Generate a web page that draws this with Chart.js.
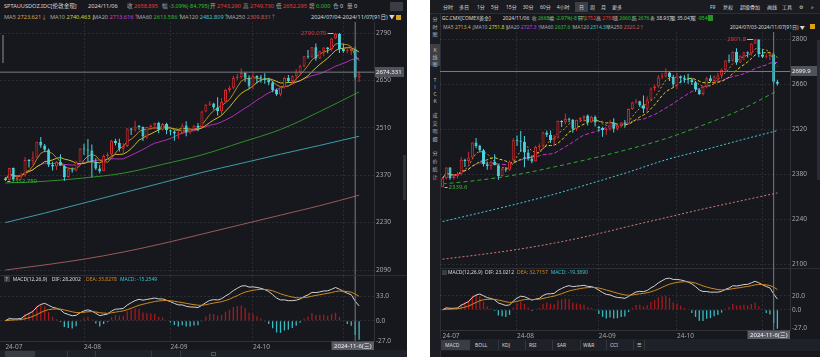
<!DOCTYPE html>
<html><head><meta charset="utf-8">
<script src="https://cdn.jsdelivr.net/npm/chart.js@4.4.1/dist/chart.umd.min.js"></script>
<style>
html,body{margin:0;padding:0;background:#fff;width:824px;height:357px;overflow:hidden}
.p{position:absolute;overflow:hidden;background:#17181d}
.s{position:absolute;white-space:nowrap;font-family:"Noto Sans","Noto Sans CJK SC",sans-serif;color:#a9a9a9;line-height:1}
.f1{font-size:5.6px}.f2{font-size:5px}
.r{color:#e8393c}.g{color:#2cc12c}.w{color:#d8d8d8}.o{color:#d38a1f}.c{color:#38c3cc}
canvas{position:absolute}
.bx{position:absolute}
.vt{position:absolute;width:10px;text-align:center;font-family:"Noto Sans CJK SC",sans-serif;font-size:5px;color:#b8b8b8}
</style></head>
<body>
<!-- LEFT PANEL -->
<div class="p" id="L" style="left:0;top:0;width:407px;height:357px">
  <div class="s f1 w" style="left:4px;top:4px">SPTAUUSDOZ.IDC[伦敦金现]</div>
  <div class="s f1 w" style="left:88px;top:4px">2024/11/06</div>
  <div class="s f1" style="left:127px;top:4px">收 <span class="r">2658.895</span></div>
  <div class="s f1" style="left:162px;top:4px">幅 <span class="g">-3.09%(-84.795)</span></div>
  <div class="s f1" style="left:210px;top:4px">开 <span class="r">2743.290</span></div>
  <div class="s f1" style="left:243px;top:4px">高 <span class="r">2749.730</span></div>
  <div class="s f1" style="left:276px;top:4px">低 <span class="r">2652.295</span></div>
  <div class="s f1" style="left:309px;top:4px">增 <span class="g">0.000</span></div>
  <div class="s f1" style="left:333px;top:4px">仓 <span class="w">0</span></div>
  <div class="s f1" style="left:347px;top:4px">量 <span class="w">0</span></div>
  <div class="bx" style="left:390px;top:2px;width:13px;height:9px;background:#3b3d44"></div>
  <div class="s f1" style="left:4px;top:15px">MA5 <span style="color:#dba440">2723.621↓</span></div>
  <div class="s f1" style="left:50px;top:15px">MA10 <span style="color:#d8d22a">2740.463↓</span></div>
  <div class="s f1" style="left:93px;top:15px">MA20 <span style="color:#cf3fd6">2713.616↑</span></div>
  <div class="s f1" style="left:137px;top:15px">MA60 <span style="color:#33b533">2613.586↑</span></div>
  <div class="s f1" style="left:180px;top:15px">MA120 <span style="color:#3ec0cc">2482.809↑</span></div>
  <div class="s f1" style="left:227px;top:15px">MA250 <span style="color:#c85a5a">2309.831↑</span></div>
  <div class="s f1 w" style="left:311px;top:15px">2024/07/04-2024/11/07(91日) ▼</div>
  <div class="bx" style="left:396px;top:15px;width:5px;height:5px;background:#d9a21b"></div>
  <canvas id="lm" width="406" height="254" style="left:0;top:22px"></canvas>
  <div class="bx" style="left:0;top:275px;width:407px;height:1px;background:#2c2e35"></div>
  <canvas id="lq" width="406" height="74" style="left:0;top:276px"></canvas>
  <div class="bx" style="left:4px;top:276px;width:6px;height:6px;background:#3a3c44"></div>
  <div class="s f2 w" style="left:5.5px;top:276.5px">?</div>
  <div class="s f2 w" style="left:12.7px;top:276.8px">MACD(12,26,9)</div>
  <div class="s f2 w" style="left:51.7px;top:276.8px">DIF: 28.2002</div>
  <div class="s f2 o" style="left:86px;top:276.8px">DEA: 35.8278</div>
  <div class="s f2 c" style="left:120px;top:276.8px">MACD: -15.2549</div>
  <div class="bx" style="left:0;top:350px;width:407px;height:7px;background:#1f2128"></div>
  <div class="bx" style="left:5px;top:351px;width:30px;height:6px;background:#3a3c44"></div>
  <div class="bx" style="left:67px;top:351px;width:1px;height:6px;background:#3a3c44"></div>
  <div class="bx" style="left:95px;top:351px;width:1px;height:6px;background:#3a3c44"></div>
  <div class="bx" style="left:151px;top:351px;width:1px;height:6px;background:#3a3c44"></div>
  <div class="bx" style="left:180px;top:351px;width:1px;height:6px;background:#3a3c44"></div>
  <div class="bx" style="left:211px;top:352px;width:5px;height:4px;border:1px solid #555;box-sizing:border-box"></div>
  <div class="bx" style="left:2px;top:35px;width:2px;height:28px;background:#50535a"></div>
  <div class="bx" style="left:403px;top:155px;width:3px;height:45px;background:#2e3037"></div>
</div>

<!-- RIGHT PANEL -->
<div class="p" id="R" style="left:430px;top:0;width:390px;height:357px">
  <div class="bx" style="left:0;top:0;width:390px;height:13px;background:#1b1c22;border-bottom:1px solid #2c2e35"></div>
  <div class="bx" style="left:145px;top:2px;width:13px;height:10px;background:#3d4048"></div>
  <div class="s f2 w" style="left:13px;top:5px">分时</div>
  <div class="s f2 w" style="left:29px;top:5px">多日</div>
  <div class="s f2 w" style="left:47px;top:5px">1分</div>
  <div class="s f2 w" style="left:61px;top:5px">5分</div>
  <div class="s f2 w" style="left:76px;top:5px">15分</div>
  <div class="s f2 w" style="left:92.7px;top:5px">30分</div>
  <div class="s f2 w" style="left:110px;top:5px">60分</div>
  <div class="s f2 w" style="left:126.7px;top:5px">4小时</div>
  <div class="s f2 w" style="left:149px;top:5px">日</div>
  <div class="s f2 w" style="left:160px;top:5px">周</div>
  <div class="s f2 w" style="left:171px;top:5px">月</div>
  <div class="s f2 w" style="left:182px;top:5px">更多</div>
  <div class="s f2 w" style="left:280px;top:5px">F9</div>
  <div class="s f2 w" style="left:293px;top:5px">复权</div>
  <div class="s f2 w" style="left:310px;top:5px">超级叠加</div>
  <div class="s f2 w" style="left:337px;top:5px">画线</div>
  <div class="s f2 w" style="left:352px;top:5px">工具</div>
  <div class="s f2 w" style="left:369px;top:5px">⚙</div>
  <div class="s f2 w" style="left:381px;top:5px">»</div>

  <div class="bx" style="left:0;top:14px;width:10px;height:343px;background:#1c1d23;border-right:1px solid #2c2e35"></div>
  <div class="vt" style="left:0;top:15px;line-height:7.5px">分<br>时<br>图</div>
  <div class="bx" style="left:0;top:44px;width:10px;height:22px;background:#3d4048"></div>
  <div class="vt" style="left:0;top:46px;line-height:7px">K<br>线<br>图</div>
  <div class="vt" style="left:0;top:76px;line-height:7px">T<br>I<br>C<br>K</div>
  <div class="vt" style="left:0;top:111px;line-height:8px">成<br>交<br>明<br>细</div>
  <div class="vt" style="left:0;top:149px;line-height:8px">分<br>价<br>统<br>计</div>

  <div class="s f2 w" style="left:11.7px;top:15.5px">GC.CMX[COMEX黄金]</div>
  <div class="s f2 w" style="left:72.7px;top:15.5px">2024/11/06</div>
  <div class="s f2" style="left:101.7px;top:15.5px">收 <span class="g">2668.0</span></div>
  <div class="s f2" style="left:119px;top:15.5px">幅 <span class="g">-2.97%(-81.7)</span></div>
  <div class="s f2" style="left:148px;top:15.5px">开 <span class="r">2752.6</span></div>
  <div class="s f2" style="left:166px;top:15.5px">高 <span class="r">2758.8</span></div>
  <div class="s f2" style="left:183px;top:15.5px">低 <span class="g">2660.7</span></div>
  <div class="s f2" style="left:201.7px;top:15.5px">结 <span class="g">2676.3</span></div>
  <div class="s f2" style="left:220px;top:15.5px">仓 <span class="w">38.93万</span></div>
  <div class="s f2" style="left:240.7px;top:15.5px">量 <span class="w">35.04万</span></div>
  <div class="s f2" style="left:261px;top:15.5px">增 <span class="g">-9546</span></div>
  <div class="bx" style="left:278px;top:15px;width:5px;height:6px;background:#2b8f2b"></div>

  <div class="s f2" style="left:13px;top:24.5px">MA5 <span style="color:#dba440">2713.4↓</span></div>
  <div class="s f2" style="left:44px;top:24.5px">MA10 <span style="color:#d8d22a">2751.8↓</span></div>
  <div class="s f2" style="left:76px;top:24.5px">MA20 <span style="color:#cf3fd6">2727.3↑</span></div>
  <div class="s f2" style="left:110px;top:24.5px">MA60 <span style="color:#33b533">2637.6↑</span></div>
  <div class="s f2" style="left:142.7px;top:24.5px">MA120 <span style="color:#3ec0cc">2514.3↑</span></div>
  <div class="s f2" style="left:176px;top:24.5px">MA250 <span style="color:#c85a5a">2320.2↑</span></div>
  <div class="s f2 w" style="left:300px;top:24.5px">2024/07/03-2024/11/07(91日) ▼</div>
  <div class="bx" style="left:380px;top:24px;width:5px;height:5px;background:#d9a21b"></div>

  <canvas id="rm" width="380" height="236" style="left:10px;top:32px"></canvas>
  <div class="bx" style="left:10px;top:268px;width:380px;height:1px;background:#2c2e35"></div>
  <canvas id="rq" width="380" height="71" style="left:10px;top:268px"></canvas>
  <div class="bx" style="left:12px;top:269.5px;width:5px;height:5px;background:#3a3c44"></div>
  <div class="s f2 w" style="left:18px;top:270px">MACD(12,26,9)</div>
  <div class="s f2 w" style="left:55px;top:270px">DIF: 23.0212</div>
  <div class="s f2 o" style="left:87px;top:270px">DEA: 32.7157</div>
  <div class="s f2 c" style="left:120.7px;top:270px">MACD: -19.3890</div>

  <div class="bx" style="left:10px;top:339px;width:380px;height:12px;background:#1f2128"></div>
  <div class="bx" style="left:11px;top:340px;width:29px;height:10px;background:#3a3d46"></div>
  <div class="s f2 w" style="left:15px;top:342.5px">MACD</div>
  <div class="s f2 w" style="left:45px;top:342.5px">BOLL</div>
  <div class="s f2 w" style="left:72px;top:342.5px">KDJ</div>
  <div class="s f2 w" style="left:99px;top:342.5px">RSI</div>
  <div class="s f2 w" style="left:127px;top:342.5px">SAR</div>
  <div class="s f2 w" style="left:153px;top:342.5px">W&amp;R</div>
  <div class="s f2 w" style="left:180px;top:342.5px">CCI</div>
  <div class="s f2 w" style="left:207px;top:342.5px">☰</div>
  <div class="bx" style="left:68px;top:340px;width:1px;height:10px;background:#34363d"></div>
  <div class="bx" style="left:95px;top:340px;width:1px;height:10px;background:#34363d"></div>
  <div class="bx" style="left:122px;top:340px;width:1px;height:10px;background:#34363d"></div>
  <div class="bx" style="left:150px;top:340px;width:1px;height:10px;background:#34363d"></div>
  <div class="bx" style="left:176px;top:340px;width:1px;height:10px;background:#34363d"></div>
  <div class="bx" style="left:203px;top:340px;width:1px;height:10px;background:#34363d"></div>
  <div class="bx" style="left:214px;top:340px;width:1px;height:10px;background:#34363d"></div>
  <div class="bx" style="left:387px;top:40px;width:3px;height:140px;background:#2a2c33"></div>
</div>

<script>
// ---------- DATA ----------
const monthIdx = [0, 20, 42, 63, 86];
const monthLbl = ['24-07', '24-08', '24-09', '24-10', '24-11'];
const crossIdx = 89;
const crossDate = '2024-11-6(三)';
const maIdx = [0, 10, 20, 30, 40, 50, 60, 70, 80, 90];

// Left: SPTAUUSDOZ.IDC (spot gold), 2024/07/04 - 2024/11/07
const spotTicks = [2090, 2230, 2370, 2510, 2650, 2790];
const spotMacdTicks = [-27, 0, 33];
const spotCross = 2674.331;
const spotHiLabel = [84, 2790.07];
const spotLoLabel = [0, 2352.75];
const spotOpen = [2360,2356,2391,2358,2364,2371,2415,2411,2422,2469,2458,2445,2401,2396,2409,2398,2365,2387,2384,2410,
  2448,2446,2443,2410,2390,2382,2427,2431,2472,2465,2448,2456,2508,2504,2514,2512,2484,2512,2517,2525,2504,2521,
  2503,2499,2493,2495,2517,2497,2506,2516,2512,2558,2578,2582,2570,2559,2587,2622,2628,2657,2659,2672,2658,
  2634,2663,2658,2656,2653,2644,2622,2608,2630,2657,2648,2662,2674,2692,2721,2720,2748,2715,2736,2747,2743,2774,2788,
  2743,2736,2737,2743.29,2659];
const spotHigh = [2365,2392,2393,2370,2378,2424,2418,2440,2469,2483,2462,2449,2410,2412,2432,2401,2390,2393,2413,2451,
  2463,2477,2461,2420,2401,2431,2438,2475,2478,2478,2464,2509,2510,2531,2518,2514,2512,2520,2525,2528,2524,2525,
  2505,2503,2500,2523,2529,2508,2518,2524,2560,2581,2589,2584,2600,2597,2625,2634,2664,2670,2685,2674,2665,
  2673,2665,2666,2671,2658,2648,2626,2633,2661,2666,2665,2683,2696,2722,2740,2749,2759,2737,2748,2749,2775,2790.07,2790,
  2758,2745,2750,2749.73,2676];
const spotLow = [2352.75,2354,2353,2354,2358,2366,2393,2401,2419,2451,2438,2394,2384,2385,2398,2353,2363,2377,2381,2409,
  2430,2411,2364,2385,2376,2382,2416,2422,2458,2440,2431,2453,2489,2498,2504,2471,2477,2504,2506,2494,2502,2491,
  2488,2472,2477,2491,2485,2491,2500,2500,2510,2556,2575,2564,2546,2547,2585,2614,2624,2651,2655,2645,2625,
  2624,2641,2643,2640,2636,2615,2605,2603,2626,2644,2641,2653,2665,2689,2714,2717,2708,2713,2721,2730,2736,2772,2731,
  2732,2730,2725,2652.3,2645];
const spotClose = [2356,2391,2358,2364,2371,2415,2411,2422,2469,2458,2445,2401,2396,2409,2398,2365,2387,2384,2410,2448,
  2446,2443,2410,2390,2382,2427,2431,2472,2465,2448,2456,2508,2504,2514,2512,2484,2512,2517,2525,2504,2521,2503,
  2499,2493,2495,2517,2497,2506,2516,2512,2558,2578,2582,2570,2559,2587,2622,2628,2657,2659,2672,2658,2634,
  2663,2658,2656,2653,2644,2622,2608,2630,2657,2648,2662,2674,2692,2721,2720,2748,2715,2736,2747,2743,2774,2788,2743,
  2736,2737,2743,2658.9,2668];
const spotMA60 = [2347, 2352, 2362, 2376, 2402, 2430, 2467, 2505, 2558, 2616];
const spotMA120 = [2230, 2258, 2288, 2318, 2348, 2378, 2405, 2432, 2458, 2485];
const spotMA250 = [2090, 2105, 2122, 2143, 2168, 2196, 2224, 2252, 2280, 2311];

// Right: GC.CMX (COMEX gold), 2024/07/03 - 2024/11/07
const gcTicks = [2100, 2240, 2380, 2520, 2660, 2800];
const gcMacdTicks = [-27, 0, 20];
const gcCross = 2699.9;
const gcHiLabel = [84, 2801.8];
const gcLoLabel = [0, 2339.6];
const gcOpen = [2340,2368,2401,2368,2374,2381,2425,2421,2432,2479,2468,2455,2411,2406,2419,2408,2375,2397,2394,2425,
  2486,2484,2481,2448,2428,2420,2465,2469,2510,2503,2486,2494,2546,2542,2552,2550,2522,2550,2555,2563,2542,2559,
  2528,2524,2518,2520,2542,2522,2531,2541,2537,2583,2603,2607,2595,2584,2612,2647,2653,2682,2684,2697,2683,
  2656,2685,2680,2678,2675,2666,2644,2630,2652,2679,2670,2675,2687,2705,2734,2733,2761,2728,2749,2760,2756,2787,2799,
  2753,2746,2747,2752.6,2668];
const gcHigh = [2370,2402,2403,2380,2388,2434,2428,2450,2479,2493,2472,2459,2420,2422,2442,2411,2400,2403,2423,2492,
  2501,2515,2499,2458,2439,2469,2476,2513,2516,2516,2502,2547,2548,2569,2556,2552,2550,2558,2563,2566,2562,2563,
  2530,2528,2525,2548,2554,2533,2543,2549,2585,2606,2614,2609,2625,2622,2650,2659,2689,2695,2710,2699,2690,
  2695,2687,2688,2693,2680,2670,2648,2655,2683,2688,2687,2696,2709,2735,2753,2762,2772,2750,2761,2762,2788,2801.8,2800,
  2768,2755,2760,2758.8,2674];
const gcLow = [2339.6,2364,2363,2364,2368,2376,2403,2411,2429,2461,2448,2404,2394,2395,2408,2363,2373,2387,2391,2420,
  2468,2449,2402,2423,2414,2420,2454,2460,2496,2478,2469,2491,2527,2536,2542,2509,2515,2542,2544,2532,2540,2529,
  2513,2497,2502,2516,2510,2516,2525,2525,2535,2581,2600,2589,2571,2572,2610,2639,2649,2676,2680,2670,2650,
  2646,2663,2665,2662,2658,2637,2627,2625,2648,2666,2663,2666,2678,2702,2727,2730,2721,2726,2734,2743,2749,2785,2744,
  2742,2740,2735,2660.7,2656];
const gcClose = [2368,2401,2368,2374,2381,2425,2421,2432,2479,2468,2455,2411,2406,2419,2408,2375,2397,2394,2420,2486,
  2484,2481,2448,2428,2420,2465,2469,2510,2503,2486,2494,2546,2542,2552,2550,2522,2550,2555,2563,2542,2559,2541,
  2524,2518,2520,2542,2522,2531,2541,2537,2583,2603,2607,2595,2584,2612,2647,2653,2682,2684,2697,2683,2659,
  2685,2680,2678,2675,2666,2644,2630,2652,2679,2670,2684,2687,2705,2734,2733,2761,2728,2749,2760,2756,2787,2799,2756,
  2746,2747,2753,2668.0,2662];
const gcMA60 = [2350, 2362, 2379, 2403, 2429, 2458, 2491, 2533, 2580, 2640];
const gcMA120 = [2233, 2260, 2288, 2318, 2352, 2387, 2425, 2455, 2486, 2516];
const gcMA250 = [2116, 2130, 2146, 2166, 2190, 2218, 2245, 2272, 2297, 2322];

// ---------- RENDER ----------
const FONT = '"Noto Sans","Noto Sans CJK SC",sans-serif';
Chart.defaults.font.family = FONT;
const BG = '#17181d', RED = '#d52b2f', CYAN = '#4dd5df';
const GRID = 'rgba(255,255,255,0.09)', TICK = '#a6a6a6', CROSS = '#7a7d84', AXIS = '#30323a';

function sma(c, n) { return c.map((_, i) => { const s = Math.max(0, i - n + 1); let t = 0; for (let j = s; j <= i; j++) t += c[j]; return t / (i - s + 1); }); }
function ema(a, n) { const k = 2 / (n + 1); const out = []; let e = a[0]; a.forEach((v, i) => { e = i === 0 ? v : v * k + e * (1 - k); out.push(e); }); return out; }
const pts = arr => arr.map((v, i) => ({ x: i, y: v }));
const sparse = vals => maIdx.map((ix, k) => ({ x: ix, y: vals[k] }));

function xScale(xmin, xmax, showLabels) {
  return {
    type: 'linear', min: xmin, max: xmax, offset: false, display: true,
    grid: { display: true, drawTicks: false, offset: false, lineWidth: 1,
      color: c => (c.tick && c.tick.value === 0) ? 'rgba(0,0,0,0)' : GRID },
    border: { display: showLabels, color: AXIS, dash: [2, 2] },
    ticks: { display: showLabels, autoSkip: false, maxRotation: 0, align: 'start', padding: 2, color: TICK,
      font: { size: 6.5 }, callback: v => { const k = monthIdx.indexOf(v); return (k >= 0 && v !== 86) ? monthLbl[k] : ''; } },
    afterBuildTicks: s => { s.ticks = monthIdx.map(v => ({ value: v })); },
    afterFit: s => { s.height = showLabels ? 9 : 0; s.paddingLeft = 0; s.paddingRight = 0; }
  };
}
function yScale(ymin, ymax, ticks, w, fmt, gridFn) {
  return {
    position: 'right', min: ymin, max: ymax, bounds: 'data', beginAtZero: false,
    grid: { drawTicks: false, color: gridFn || GRID },
    border: { display: true, color: AXIS, dash: [2, 2] },
    ticks: { color: TICK, font: { size: 6.5 }, padding: 2, callback: v => fmt(v) },
    afterBuildTicks: s => { s.ticks = ticks.map(v => ({ value: v })); },
    afterFit: s => { s.width = w; s.paddingTop = 0; s.paddingBottom = 0; }
  };
}
const lineBase = { type: 'line', pointRadius: 0, borderWidth: 1, fill: false, tension: 0 };

const mainDeco = {
  id: 'mainDeco',
  afterDraw(chart, args, o) {
    const { ctx, chartArea: a, scales: { x, y } } = chart;
    ctx.save();
    ctx.font = '6px ' + FONT; ctx.textBaseline = 'middle'; ctx.lineWidth = 1;
    let px = x.getPixelForValue(o.hi[0]), py = Math.round(y.getPixelForValue(o.hi[1]));
    ctx.strokeStyle = '#bdbdbd';
    ctx.beginPath(); ctx.moveTo(px - 8, py + 0.5); ctx.lineTo(px - 2, py + 0.5); ctx.stroke();
    ctx.fillStyle = '#e0393c'; ctx.textAlign = 'right'; ctx.fillText(o.hiText, px - 9, py);
    px = x.getPixelForValue(o.lo[0]); py = Math.round(y.getPixelForValue(o.lo[1]));
    ctx.beginPath(); ctx.moveTo(px + 2, py + 0.5); ctx.lineTo(px + 5, py + 0.5); ctx.stroke();
    ctx.fillStyle = '#33b533'; ctx.textAlign = 'left'; ctx.fillText(o.loText, px + 6, py);
    const cy = Math.round(y.getPixelForValue(o.cross));
    ctx.fillStyle = '#50535b'; ctx.fillRect(a.right + 1, cy - 5, chart.width - a.right - 3, 10);
    ctx.fillStyle = '#f2f2f2'; ctx.fillText(o.crossText, a.right + 2, cy + 0.5);
    ctx.restore();
  }
};
const macdDeco = {
  id: 'macdDeco',
  afterDraw(chart, args, o) {
    const { ctx, chartArea: a, scales: { x } } = chart;
    ctx.save();
    ctx.font = '6px ' + FONT; ctx.textBaseline = 'middle';
    const w = ctx.measureText(o.text).width + 5;
    const cx = x.getPixelForValue(o.idx);
    const left = Math.min(cx - w / 2, a.right - w);
    ctx.fillStyle = '#5a5d66'; ctx.fillRect(left, a.bottom + 0.5, w, 9);
    ctx.fillStyle = '#f2f2f2'; ctx.textAlign = 'left'; ctx.fillText(o.text, left + 2.5, a.bottom + 5);
    ctx.restore();
  }
};

function buildMain(id, d) {
  const up = d.close.map((c, i) => c >= d.open[i]);
  const ds = [];
  const shortN = [5, 10, 20];
  shortN.forEach((n, k) => ds.push(Object.assign({}, lineBase, { data: pts(sma(d.close, n)), borderColor: d.col[k], borderDash: d.dash[k], order: 5 })));
  [d.ma60, d.ma120, d.ma250].forEach((v, k) => ds.push(Object.assign({}, lineBase, { data: sparse(v), borderColor: d.col[k + 3], borderDash: d.dash[k + 3], cubicInterpolationMode: 'monotone', order: 5 })));
  ds.push({ type: 'bar', data: d.close.map((c, i) => ({ x: i, y: [d.low[i], d.high[i]] })), backgroundColor: up.map(u => u ? RED : CYAN),
    borderWidth: 0, barThickness: 1, grouped: false, inflateAmount: 0, order: 2 });
  ds.push({ type: 'bar', data: d.close.map((c, i) => ({ x: i, y: [d.open[i], c] })), backgroundColor: up.map(u => u ? BG : CYAN),
    borderColor: up.map(u => u ? RED : CYAN), borderWidth: 1, borderSkipped: false, barThickness: 3, minBarLength: 1, grouped: false, inflateAmount: 0, order: 1 });
  ds.push(Object.assign({}, lineBase, { data: [{ x: d.xmin, y: d.cross }, { x: d.xmax, y: d.cross }], borderColor: CROSS, order: 0 }));
  ds.push(Object.assign({}, lineBase, { data: [{ x: crossIdx, y: d.ymin }, { x: crossIdx, y: d.ymax }], borderColor: CROSS, order: 0 }));
  new Chart(document.getElementById(id), {
    type: 'bar',
    data: { datasets: ds },
    options: {
      responsive: false, animation: false, devicePixelRatio: 1, layout: { padding: 0 },
      plugins: { legend: { display: false }, tooltip: { enabled: false },
        mainDeco: { hi: d.hi, hiText: d.hi[1].toFixed(d.dec), lo: d.lo, loText: d.lo[1].toFixed(d.dec), cross: d.cross, crossText: d.cross.toFixed(d.dec) } },
      scales: { x: xScale(d.xmin, d.xmax, false), y: yScale(d.ymin, d.ymax, d.ticks, d.yw, v => v.toFixed(0)) }
    },
    plugins: [mainDeco]
  });
}

function buildMacd(id, d) {
  const e12 = ema(d.close, 12), e26 = ema(d.close, 26);
  const dif = e12.map((v, i) => v - e26[i]);
  const dea = ema(dif, 9);
  const hist = dif.map((v, i) => 2 * (v - dea[i]));
  const ds = [
    { type: 'bar', data: pts(hist), backgroundColor: hist.map(v => v >= 0 ? '#a8191c' : '#3bb9c2'), borderWidth: 0, barThickness: 1.3, grouped: false, inflateAmount: 0, order: 3 },
    Object.assign({}, lineBase, { data: pts(dif), borderColor: '#d2d2d2', order: 2 }),
    Object.assign({}, lineBase, { data: pts(dea), borderColor: '#cf8a1c', order: 1 }),
    Object.assign({}, lineBase, { data: [{ x: crossIdx, y: d.ymin }, { x: crossIdx, y: d.ymax }], borderColor: CROSS, order: 0 })
  ];
  new Chart(document.getElementById(id), {
    type: 'bar',
    data: { datasets: ds },
    options: {
      responsive: false, animation: false, devicePixelRatio: 1, layout: { padding: 0 },
      plugins: { legend: { display: false }, tooltip: { enabled: false }, macdDeco: { idx: crossIdx, text: crossDate } },
      scales: { x: xScale(d.xmin, d.xmax, true),
        y: yScale(d.ymin, d.ymax, d.ticks, d.yw, v => v.toFixed(1), c => (c.tick && c.tick.value < 0) ? 'rgba(0,0,0,0)' : GRID) }
    },
    plugins: [macdDeco]
  });
}

const leftCols = ['#b8872a', '#c9c21e', '#b32fb8', '#2f8f2a', '#3a9ea6', '#9b5a5a'];
const rightCols = ['#c99530', '#e0d820', '#c933d0', '#33a633', '#48c8d8', '#d07c7c'];
const solid = [[], [], [], [], [], []];
const dashed = [[2, 2], [3, 2], [4, 2], [4, 3], [2, 2], [2, 2]];

buildMain('lm', { open: spotOpen, high: spotHigh, low: spotLow, close: spotClose, ma60: spotMA60, ma120: spotMA120, ma250: spotMA250,
  col: leftCols, dash: solid, xmin: -1.374, xmax: 93.79, ymin: 2072.28, ymax: 2822.49, ticks: spotTicks, yw: 32,
  cross: spotCross, hi: spotHiLabel, lo: spotLoLabel, dec: 3 });
buildMacd('lq', { close: spotClose, xmin: -1.374, xmax: 93.79, ymin: -27.25, ymax: 60.0, ticks: spotMacdTicks, yw: 32 });
buildMain('rm', { open: gcOpen, high: gcHigh, low: gcLow, close: gcClose, ma60: gcMA60, ma120: gcMA120, ma250: gcMA250,
  col: rightCols, dash: dashed, xmin: -0.699, xmax: 93.39, ymin: 2088.49, ymax: 2822.71, ticks: gcTicks, yw: 30,
  cross: gcCross, hi: gcHiLabel, lo: gcLoLabel, dec: 1 });
buildMacd('rq', { close: gcClose, xmin: -0.699, xmax: 93.39, ymin: -29.42, ymax: 60.43, ticks: gcMacdTicks, yw: 30 });
</script>
</body></html>
